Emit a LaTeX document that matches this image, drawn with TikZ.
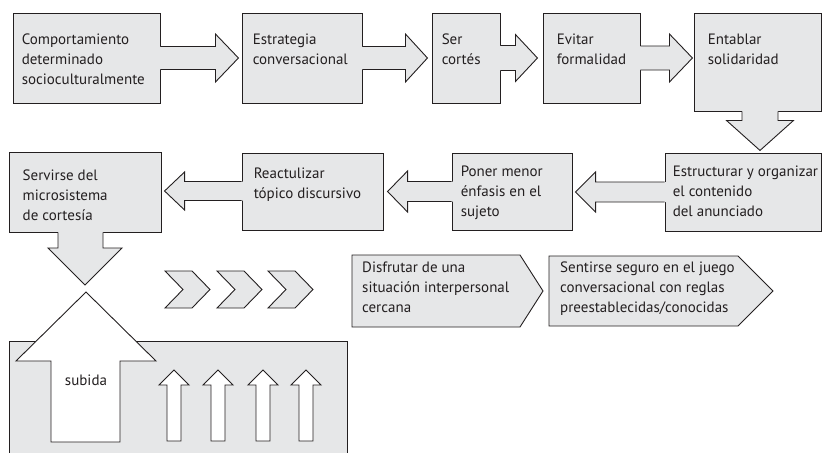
\documentclass[tikz,border=0pt]{standalone}
\usepackage{fontspec}
\setmainfont{PT Sans}
\usetikzlibrary{calc}
\definecolor{boxgray}{HTML}{E6E7E8}
\definecolor{ink}{HTML}{231F20}
\tikzset{
  ln/.style={draw=ink, line width=0.9pt, line join=miter},
  boxnode/.style={ln, fill=boxgray, rectangle, inner sep=0pt},
  txt/.style={anchor=north west, inner sep=0pt, align=left, text=ink,
    font=\fontsize{15}{20}\selectfont},
}
% #1 start point, #2 angle, #3 shaft length, #4 head length, #5 shaft half width, #6 head half width
\newcommand{\blockarrow}[6]{%
  \begin{scope}[shift={(#1)}, rotate=#2]
    \fill[boxgray] (-1.5,-#5) -- (#3,-#5) -- (#3,-#6) -- (#3+#4,0) -- (#3,#6) -- (#3,#5) -- (-1.5,#5) -- cycle;
    \draw[ln] (0,-#5) -- (#3,-#5) -- (#3,-#6) -- (#3+#4,0) -- (#3,#6) -- (#3,#5) -- (0,#5);
  \end{scope}}
\begin{document}
\begin{tikzpicture}[x=1pt, y=-1pt]
\useasboundingbox (0,0) rectangle (823,453);

% ---- row 1 boxes
\node[boxnode, minimum width=147pt, minimum height=90pt] (b1) at (86.5,58) {};
\node[boxnode, minimum width=120pt, minimum height=90pt] (b2) at (302,58) {};
\node[boxnode, minimum width=68pt, minimum height=90pt] (b3) at (466,58) {};
\node[boxnode, minimum width=97pt, minimum height=90pt] (b4) at (591.5,58) {};
\node[boxnode, minimum width=127pt, minimum height=98pt] (b5) at (757.5,62) {};

% ---- row 2 boxes
\node[boxnode, minimum width=156pt, minimum height=78pt] (c1) at (743,192) {};
\node[boxnode, minimum width=120pt, minimum height=77pt] (c2) at (512,191.5) {};
\node[boxnode, minimum width=141pt, minimum height=77pt] (c3) at (312.5,191.5) {};
\node[boxnode, minimum width=152pt, minimum height=80pt] (c4) at (85,192) {};

% ---- block arrows between boxes
\blockarrow{b1.east}{0}{55}{23}{11.5}{24}
\blockarrow{b2.east}{0}{43}{22}{11.5}{24}
\blockarrow{b3.east}{0}{15}{22}{12.5}{23.5}
\blockarrow{b4.east}{0}{29}{23}{12}{24}
\blockarrow{$(b5.south)+(2.5,0)$}{-90}{9}{30}{18}{33.5}
\blockarrow{c1.west}{180}{69}{20}{10}{20}
\blockarrow{c2.west}{180}{44}{20}{10}{20.5}
\blockarrow{$(c3.west)+(0,-0.5)$}{180}{57}{20}{9.5}{19}

% down arrow under "Servirse del ..."
\fill[boxgray] (58,230.5) -- (58,248) -- (48,248) -- (85,285) -- (122,248) -- (103,248) -- (103,230.5) -- cycle;
\draw[ln] (c4.south -| 58,0) -- (58,248) -- (48,248) -- (85,285) -- (122,248) -- (103,248) -- (c4.south -| 103,0);

% ---- texts
\node[txt] (t1) at ($(b1.north west)+(9,21.5)$) {Comportamiento\\determinado\\socioculturalmente};
\node[txt] (t2) at ($(b2.north west)+(11,21.5)$) {Estrategia\\conversacional};
\node[txt] (t3) at ($(b3.north west)+(10,21.5)$) {Ser\\cortés};
\node[txt] (t4) at ($(b4.north west)+(14,21.5)$) {Evitar\\formalidad};
\node[txt] (t5) at ($(b5.north west)+(14,21.5)$) {Entablar\\solidaridad};
\node[txt] (t6) at ($(c1.north west)+(8,13.5)$) {Estructurar y organizar\\el contenido\\del anunciado};
\node[txt] (t7) at ($(c2.north west)+(9,13.5)$) {Poner menor\\énfasis en el\\sujeto};
\node[txt] (t8) at ($(c3.north west)+(12,15.5)$) {Reactulizar\\tópico discursivo};
\node[txt] (t9) at ($(c4.north west)+(14,18.5)$) {Servirse del\\microsistema\\de cortesía};

% ---- chevrons
\foreach \l in {165,217,268}{
  \draw[ln, fill=boxgray] (\l,271) -- (\l+27,271) -- (\l+45,289.5) -- (\l+27,308) -- (\l,308) -- (\l+18,289.5) -- cycle;
}

% ---- pentagons
\draw[ln, fill=boxgray] (352,255) coordinate (p1) -- (520,255) -- (543,291) -- (520,327) -- (352,327) -- cycle;
\draw[ln, fill=boxgray] (549,256) coordinate (p2) -- (738,256) -- (773,291) -- (738,326) -- (549,326) -- cycle;
\node[txt] (t10) at ($(p1)+(10,7)$) {Disfrutar de una\\situación interpersonal\\cercana};
\node[txt] (t11) at ($(p2)+(11,6)$) {Sentirse seguro en el juego\\conversacional con reglas\\preestablecidas/conocidas};

% ---- bottom grey panel
\fill[boxgray] (9,341) rectangle (347,453);
\draw[ln] (9,454) -- (9,341) -- (347,341) -- (347,454);

% big white up arrow
\draw[ln, fill=white] (86,292) -- (156,361) -- (120,361) -- (120,442) -- (51,442) -- (51,361) -- (16,361) -- cycle;
\node[text=ink, font=\fontsize{15}{20}\selectfont, inner sep=0pt] (sub) at (86,380) {subida};

% small white up arrows
\foreach \c in {174,218,263,306}{
  \draw[ln, fill=white] (\c,370) -- (\c+15,385) -- (\c+7,385) -- (\c+7,441) -- (\c-7,441) -- (\c-7,385) -- (\c-15,385) -- cycle;
}
\end{tikzpicture}
\end{document}
